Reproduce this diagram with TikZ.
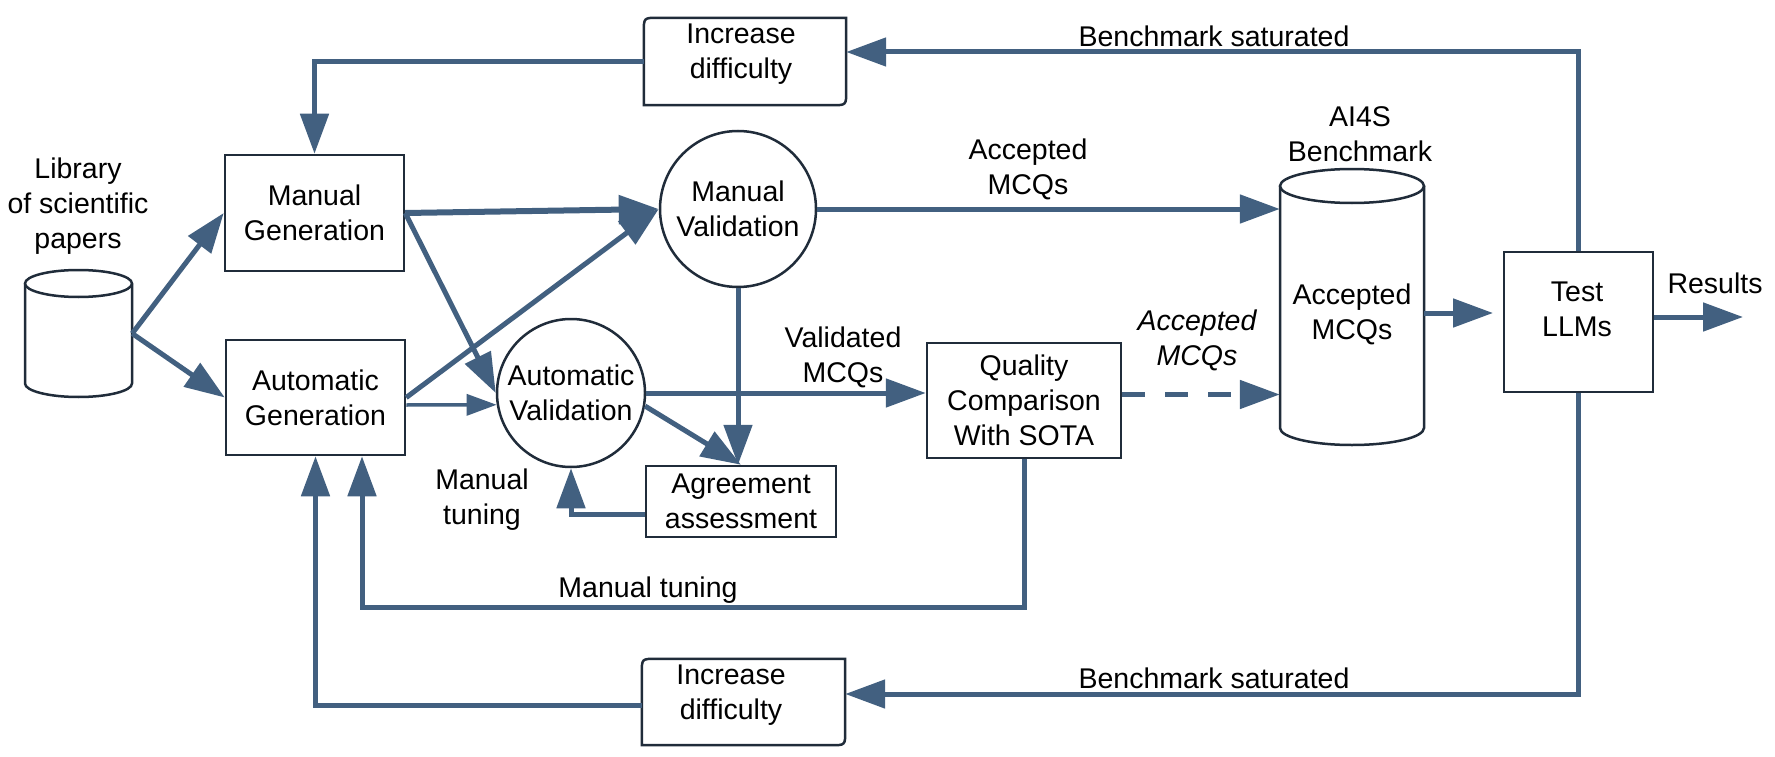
\documentclass[tikz,border=0pt]{standalone}
\usepackage{fontspec}
\setmainfont{Liberation Sans}
\usetikzlibrary{arrows.meta,calc}
\definecolor{linecol}{RGB}{66,96,128}
\definecolor{bordcol}{RGB}{32,44,58}
\newcommand\figfont{\fontsize{28.5}{35}\selectfont}
\begin{document}
\begin{tikzpicture}[x=1pt,y=-1pt,
  bord/.style={draw=bordcol, line width=2.5pt},
  box/.style={bord, fill=white, rectangle, inner sep=0pt, align=center, font=\figfont},
  circ/.style={bord, fill=white, circle, inner sep=0pt, align=center, font=\figfont},
  ghost/.style={draw=none, rectangle, inner sep=0pt, align=center, font=\figfont},
  txt/.style={inner sep=0pt, align=center, font=\figfont},
  arr/.style={color=linecol, line width=5pt, -{Triangle[length=40pt,width=28pt]}},
  thinarr/.style={color=linecol, line width=3.5pt, -{Triangle[length=30pt,width=21pt]}},
]
\fill[white] (0,0) rectangle (1775,757);
\useasboundingbox (0,0) rectangle (1775,757);

% library cylinder
\node[ghost, minimum width=107pt, minimum height=127pt] (lib) at (78.5,333.5) {};
\draw[bord, fill=white] (25,283.5) -- (25,383.5) arc[start angle=180,end angle=360,x radius=53.5pt,y radius=13.5pt] -- (132,283.5);
\draw[bord, fill=white] (78.5,283.5) ellipse[x radius=53.5pt, y radius=13.5pt];
\node[txt] (libtxt) at (78,206) {Library\\of scientific\\papers};

% benchmark cylinder
\draw[bord, fill=white] (1280,186) -- (1280,428) arc[start angle=180,end angle=360,x radius=72pt,y radius=17pt] -- (1424,186);
\draw[bord, fill=white] (1352,186) ellipse[x radius=72pt,y radius=17pt];
\node[ghost, minimum width=144pt] (bench) at (1352,314) {Accepted\\MCQs};
\node[txt] (ai4s) at (1360,134) {AI4S\\Benchmark};

% boxes
\node[box, minimum width=179pt, minimum height=116pt] (mgen) at (314.5,213) {Manual\\Generation};
\node[box, minimum width=179pt, minimum height=115pt] (agen) at (315.5,397.5) {Automatic\\Generation};
\node[circ, minimum size=156pt] (mval) at (738,209) {Manual\\Validation};
\node[circ, minimum size=148pt] (aval) at (571,393) {Automatic\\Validation};
\node[box, minimum width=190pt, minimum height=71pt] (agree) at (741,501.5) {Agreement\\assessment};
\node[box, minimum width=194pt, minimum height=115pt] (qual) at (1024,400.5) {Quality\\Comparison\\With SOTA};
\node[box, minimum width=149pt, minimum height=140pt] (test) at (1578.5,322) {};
\node[txt] (testtxt) at (1577,309) {Test\\LLMs};

% increase difficulty boxes
\node[ghost, minimum width=202pt, minimum height=87pt] (incT) at (745,61.5) {};
\draw[bord, fill=white] ($(incT.north west)+(0,14)$) .. controls (incT.north west) .. ($(incT.north west)+(14,0)$) -- (incT.north east) -- ($(incT.south east)+(0,-14)$) .. controls (incT.south east) .. ($(incT.south east)+(-14,0)$) -- (incT.south west) -- cycle;
\node[txt] (incTtxt) at (741,54.5) {Increase\\difficulty};
\node[ghost, minimum width=203pt, minimum height=86pt] (incB) at (743.5,702) {};
\draw[bord, fill=white] ($(incB.north west)+(0,14)$) .. controls (incB.north west) .. ($(incB.north west)+(14,0)$) -- (incB.north east) -- ($(incB.south east)+(0,-14)$) .. controls (incB.south east) .. ($(incB.south east)+(-14,0)$) -- (incB.south west) -- cycle;
\node[txt] (incBtxt) at (731,695.5) {Increase\\difficulty};

% labels
\node[txt] (bsT) at (1214,36) {Benchmark saturated};
\node[txt] (bsB) at (1214,678) {Benchmark saturated};
\node[txt] (accT) at (1028,169) {Accepted\\MCQs};
\node[txt, font=\figfont\itshape] (accI) at (1197,340) {Accepted\\MCQs};
\node[txt] (valid) at (843,357) {Validated\\MCQs};
\node[txt] (mt1) at (482,500) {Manual\\tuning};
\node[txt] (mt2) at (648,590) {Manual tuning};
\node[txt] (res) at (1715,283) {Results};

% coordinates
\coordinate (tuneY) at (700,607);
\coordinate (tb) at (1493,313);
\coordinate (resEnd) at (1743,317);

% connectors
\draw[arr] (lib.east) -- (mgen.west);
\draw[arr] (lib.east) -- (agen.west);
\draw[arr] (incT.west) -| (mgen.north);
\draw[arr] (test.north) |- ([yshift=9.5pt]incT.east);
\draw[arr] (test.south) |- ([yshift=8pt]incB.east);
\draw[arr] ([yshift=-3pt]incB.west) -| (agen.south);
\draw[arr] (qual.south) |- (tuneY) -| ([xshift=46.5pt]agen.south);
\draw[arr, line width=6pt] (mgen.east) -- (mval.west);
\draw[arr] (mgen.east) -- (aval.west);
\draw[arr] (agen.east) -- (mval.west);
\draw[thinarr] ([yshift=-7.5pt]agen.east) -- (aval.189);
\draw[arr] (aval.east) -- (aval.east -| qual.west);
\draw[arr] (aval.-10) -- (agree.north);
\draw[arr] (mval.south) -- (mval.south |- agree.north);
\draw[arr] ([yshift=-12.5pt]agree.west) -| (aval.south);
\draw[arr] (mval.east) -- (mval.east -| bench.west);
\draw[arr, dash pattern=on 23pt off 20pt] ([yshift=6pt]qual.east) -- ([yshift=6pt]qual.east -| bench.west);
\draw[arr] (bench.east |- tb) -- (tb);
\draw[arr] (test.east |- resEnd) -- (resEnd);
\end{tikzpicture}
\end{document}
